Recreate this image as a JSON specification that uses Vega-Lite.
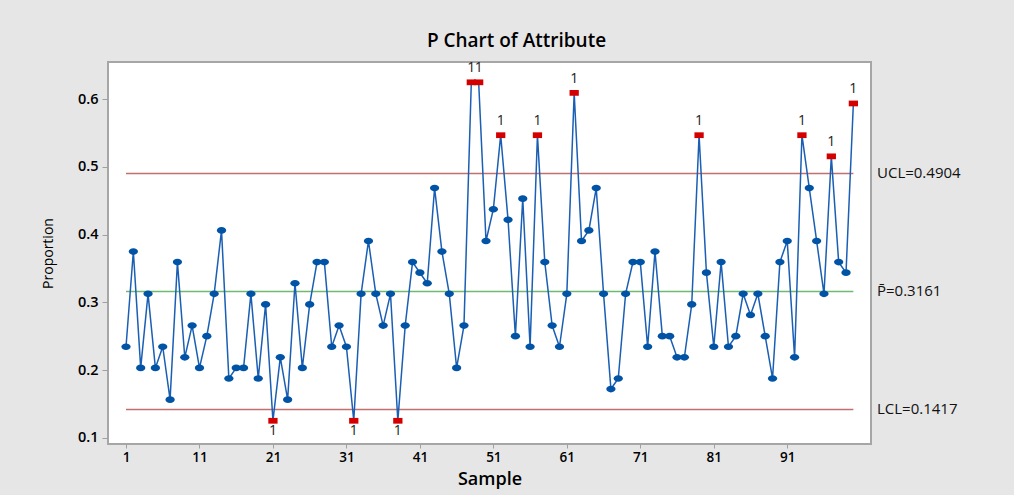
{
  "$schema": "https://vega.github.io/schema/vega-lite/v6.json",
  "width": 763,
  "height": 382,
  "autosize": {"type": "none"},
  "padding": {"left": 108, "top": 62, "right": 143, "bottom": 51},
  "background": "#e6e6e6",
  "title": {"text": "P Chart of Attribute", "anchor": "middle", "frame": "group", "dx": 27, "offset": 1, "baseline": "middle", "fontSize": 19, "fontWeight": 600, "font": "Open Sans", "color": "#000000"},
  "config": {
    "view": {"fill": "white", "stroke": "#a6a6a6", "strokeWidth": 2},
    "font": "Open Sans",
    "axis": {"domain": false, "grid": false, "tickColor": "#a0a0a0", "labelColor": "#000000", "titleColor": "#000000", "labelFont": "Open Sans", "titleFont": "Open Sans"}
  },
  "datasets": {
    "pts": [
      {"sample": 1, "p": 0.234375}, {"sample": 2, "p": 0.375}, {"sample": 3, "p": 0.203125}, {"sample": 4, "p": 0.3125}, {"sample": 5, "p": 0.203125},
      {"sample": 6, "p": 0.234375}, {"sample": 7, "p": 0.15625}, {"sample": 8, "p": 0.359375}, {"sample": 9, "p": 0.21875}, {"sample": 10, "p": 0.265625},
      {"sample": 11, "p": 0.203125}, {"sample": 12, "p": 0.25}, {"sample": 13, "p": 0.3125}, {"sample": 14, "p": 0.40625}, {"sample": 15, "p": 0.1875},
      {"sample": 16, "p": 0.203125}, {"sample": 17, "p": 0.203125}, {"sample": 18, "p": 0.3125}, {"sample": 19, "p": 0.1875}, {"sample": 20, "p": 0.296875},
      {"sample": 21, "p": 0.125}, {"sample": 22, "p": 0.21875}, {"sample": 23, "p": 0.15625}, {"sample": 24, "p": 0.328125}, {"sample": 25, "p": 0.203125},
      {"sample": 26, "p": 0.296875}, {"sample": 27, "p": 0.359375}, {"sample": 28, "p": 0.359375}, {"sample": 29, "p": 0.234375}, {"sample": 30, "p": 0.265625},
      {"sample": 31, "p": 0.234375}, {"sample": 32, "p": 0.125}, {"sample": 33, "p": 0.3125}, {"sample": 34, "p": 0.390625}, {"sample": 35, "p": 0.3125},
      {"sample": 36, "p": 0.265625}, {"sample": 37, "p": 0.3125}, {"sample": 38, "p": 0.125}, {"sample": 39, "p": 0.265625}, {"sample": 40, "p": 0.359375},
      {"sample": 41, "p": 0.34375}, {"sample": 42, "p": 0.328125}, {"sample": 43, "p": 0.46875}, {"sample": 44, "p": 0.375}, {"sample": 45, "p": 0.3125},
      {"sample": 46, "p": 0.203125}, {"sample": 47, "p": 0.265625}, {"sample": 48, "p": 0.625}, {"sample": 49, "p": 0.625}, {"sample": 50, "p": 0.390625},
      {"sample": 51, "p": 0.4375}, {"sample": 52, "p": 0.546875}, {"sample": 53, "p": 0.421875}, {"sample": 54, "p": 0.25}, {"sample": 55, "p": 0.453125},
      {"sample": 56, "p": 0.234375}, {"sample": 57, "p": 0.546875}, {"sample": 58, "p": 0.359375}, {"sample": 59, "p": 0.265625}, {"sample": 60, "p": 0.234375},
      {"sample": 61, "p": 0.3125}, {"sample": 62, "p": 0.609375}, {"sample": 63, "p": 0.390625}, {"sample": 64, "p": 0.40625}, {"sample": 65, "p": 0.46875},
      {"sample": 66, "p": 0.3125}, {"sample": 67, "p": 0.171875}, {"sample": 68, "p": 0.1875}, {"sample": 69, "p": 0.3125}, {"sample": 70, "p": 0.359375},
      {"sample": 71, "p": 0.359375}, {"sample": 72, "p": 0.234375}, {"sample": 73, "p": 0.375}, {"sample": 74, "p": 0.25}, {"sample": 75, "p": 0.25},
      {"sample": 76, "p": 0.21875}, {"sample": 77, "p": 0.21875}, {"sample": 78, "p": 0.296875}, {"sample": 79, "p": 0.546875}, {"sample": 80, "p": 0.34375},
      {"sample": 81, "p": 0.234375}, {"sample": 82, "p": 0.359375}, {"sample": 83, "p": 0.234375}, {"sample": 84, "p": 0.25}, {"sample": 85, "p": 0.3125},
      {"sample": 86, "p": 0.28125}, {"sample": 87, "p": 0.3125}, {"sample": 88, "p": 0.25}, {"sample": 89, "p": 0.1875}, {"sample": 90, "p": 0.359375},
      {"sample": 91, "p": 0.390625}, {"sample": 92, "p": 0.21875}, {"sample": 93, "p": 0.546875}, {"sample": 94, "p": 0.46875}, {"sample": 95, "p": 0.390625},
      {"sample": 96, "p": 0.3125}, {"sample": 97, "p": 0.515625}, {"sample": 98, "p": 0.359375}, {"sample": 99, "p": 0.34375}, {"sample": 100, "p": 0.59375}
    ],
    "limits": [
      {"name": "UCL", "value": 0.4904, "label": "UCL=0.4904", "kind": "limit"},
      {"name": "P", "value": 0.3161, "label": "P\u0304=0.3161", "kind": "center"},
      {"name": "LCL", "value": 0.1417, "label": "LCL=0.1417", "kind": "limit"}
    ]
  },
  "layer": [
    {
      "data": {"name": "limits"},
      "mark": {"type": "rule", "strokeWidth": 1.5},
      "encoding": {
        "x": {"datum": 1, "type": "quantitative", "scale": {"domain": [-1.45, 102.4], "nice": false, "zero": false}, "title": "Sample"},
        "x2": {"datum": 100},
        "y": {"field": "value", "type": "quantitative", "scale": {"domain": [0.0907, 0.655], "nice": false, "zero": false}, "title": "Proportion"},
        "color": {"field": "kind", "type": "nominal", "scale": {"domain": ["limit", "center"], "range": ["#c46f6f", "#6fba6f"]}, "legend": null}
      }
    },
    {
      "data": {"name": "limits"},
      "mark": {"type": "text", "x": "width", "dx": 6, "align": "left", "baseline": "middle", "fontSize": 15, "color": "#111111", "font": "Open Sans"},
      "encoding": {
        "y": {"field": "value", "type": "quantitative", "title": "Proportion"},
        "text": {"field": "label", "type": "nominal"}
      }
    },
    {
      "data": {"name": "pts"},
      "mark": {"type": "line", "color": "#1a5fb4", "strokeWidth": 1.5},
      "encoding": {
        "x": {"field": "sample", "type": "quantitative", "title": "Sample",
              "axis": {"values": [1, 11, 21, 31, 41, 51, 61, 71, 81, 91], "tickSize": 4, "labelFontSize": 13.5, "labelFontWeight": 600, "labelPadding": 2, "titleFontSize": 18, "titleFontWeight": 600, "titlePadding": 7, "labelFlush": false}},
        "y": {"field": "p", "type": "quantitative", "title": "Proportion",
              "axis": {"values": [0.1, 0.2, 0.3, 0.4, 0.5, 0.6], "format": ".1f", "tickSize": 6, "labelFontSize": 14.5, "labelFontWeight": 600, "labelPadding": 4, "titleFontSize": 14, "titleFontWeight": "normal", "titlePadding": 22}}
      }
    },
    {
      "data": {"name": "pts"},
      "transform": [{"filter": "datum.p <= 0.4904 && datum.p >= 0.1417"}],
      "mark": {"type": "point", "shape": "M-1,0A1,0.72,0,1,1,1,0A1,0.72,0,1,1,-1,0Z", "size": 86, "filled": true, "color": "#0053a5", "opacity": 1},
      "encoding": {
        "x": {"field": "sample", "type": "quantitative", "title": "Sample"},
        "y": {"field": "p", "type": "quantitative", "title": "Proportion"}
      }
    },
    {
      "data": {"name": "pts"},
      "transform": [{"filter": "datum.p > 0.4904 || datum.p < 0.1417"}],
      "mark": {"type": "point", "shape": "M-1,-0.62L1,-0.62L1,0.62L-1,0.62Z", "size": 86, "filled": true, "color": "#d40000", "opacity": 1},
      "encoding": {
        "x": {"field": "sample", "type": "quantitative", "title": "Sample"},
        "y": {"field": "p", "type": "quantitative", "title": "Proportion"}
      }
    },
    {
      "data": {"name": "pts"},
      "transform": [{"filter": "datum.p > 0.4904"}],
      "mark": {"type": "text", "text": "1", "dy": -14, "baseline": "middle", "align": "center", "fontSize": 14, "color": "#222222", "font": "Open Sans"},
      "encoding": {
        "x": {"field": "sample", "type": "quantitative", "title": "Sample"},
        "y": {"field": "p", "type": "quantitative", "title": "Proportion"}
      }
    },
    {
      "data": {"name": "pts"},
      "transform": [{"filter": "datum.p < 0.1417"}],
      "mark": {"type": "text", "text": "1", "dy": 10, "baseline": "middle", "align": "center", "fontSize": 14, "color": "#222222", "font": "Open Sans"},
      "encoding": {
        "x": {"field": "sample", "type": "quantitative", "title": "Sample"},
        "y": {"field": "p", "type": "quantitative", "title": "Proportion"}
      }
    }
  ]
}
